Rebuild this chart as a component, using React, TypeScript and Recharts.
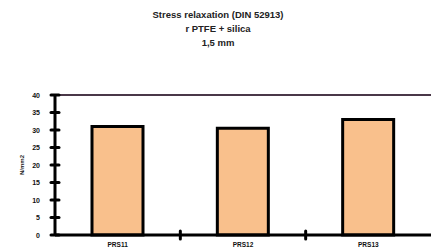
import { Bar, BarChart, ReferenceLine, XAxis, YAxis } from "recharts";

const categories = ["PRS11", "PRS12", "PRS13"];
const values = [31, 30.5, 33];
const yTicks = [0, 5, 10, 15, 20, 25, 30, 35, 40];
const titleLines = ["Stress relaxation (DIN 52913)", "r PTFE + silica", "1,5 mm"];

const data = categories.map((name, i) => ({ name, value: values[i] }));

const W = 431;
const H = 250;
const LEFT = 55;
const BAND = (W - LEFT) / categories.length;
const font = "'Liberation Sans', Arial, sans-serif";

function YTick(props: any) {
  const { x, y, payload } = props;
  return (
    <g>
      <line x1={LEFT - 4} x2={LEFT + 4} y1={y} y2={y} stroke="#000" strokeWidth={3} strokeLinecap="round" />
      <text x={x - 7} y={y} dy={2.5} textAnchor="end" fontSize={7} fontWeight="bold" fill="#111" fontFamily={font}>
        {payload.value}
      </text>
    </g>
  );
}

function XTick(props: any) {
  const { x, y, payload, index } = props;
  return (
    <g>
      {index < categories.length - 1 && (
        <line
          x1={x + BAND / 2}
          x2={x + BAND / 2}
          y1={y - 12}
          y2={y - 4}
          stroke="#000"
          strokeWidth={3}
          strokeLinecap="round"
        />
      )}
      <text x={x} y={y + 4} textAnchor="middle" fontSize={6.5} fontWeight="bold" fill="#111" fontFamily={font}>
        {payload.value}
      </text>
    </g>
  );
}

export default function App() {
  return (
    <div style={{ position: "absolute", left: 0, top: 0, width: W, height: H, background: "#fff" }}>
      <div
        style={{
          position: "absolute",
          left: 118,
          width: 200,
          top: 8,
          textAlign: "center",
          fontFamily: font,
          fontWeight: "bold",
          fontSize: 9.5,
          lineHeight: "14px",
          color: "#222",
        }}
      >
        {titleLines.map((t) => (
          <div key={t}>{t}</div>
        ))}
      </div>
      <BarChart width={W} height={H} data={data} margin={{ top: 95, right: 0, bottom: 0, left: 0 }} barCategoryGap={0}>
        <XAxis
          dataKey="name"
          axisLine={{ stroke: "#000", strokeWidth: 3 }}
          tickLine={false}
          tick={<XTick />}
          height={15}
          interval={0}
        />
        <YAxis
          width={LEFT}
          domain={[0, 40]}
          ticks={yTicks}
          interval={0}
          axisLine={{ stroke: "#000", strokeWidth: 3 }}
          tickLine={false}
          tick={<YTick />}
          label={{
            value: "N/mm2",
            angle: -90,
            position: "insideLeft",
            offset: 22,
            style: { fontSize: 6, fontWeight: "bold", fill: "#222", fontFamily: font, textAnchor: "middle" },
          }}
        />
        <ReferenceLine y={40} stroke="#4a3848" strokeWidth={2} />
        <Bar dataKey="value" fill="#f9c08c" stroke="#000" strokeWidth={3} barSize={51} isAnimationActive={false} />
      </BarChart>
    </div>
  );
}
